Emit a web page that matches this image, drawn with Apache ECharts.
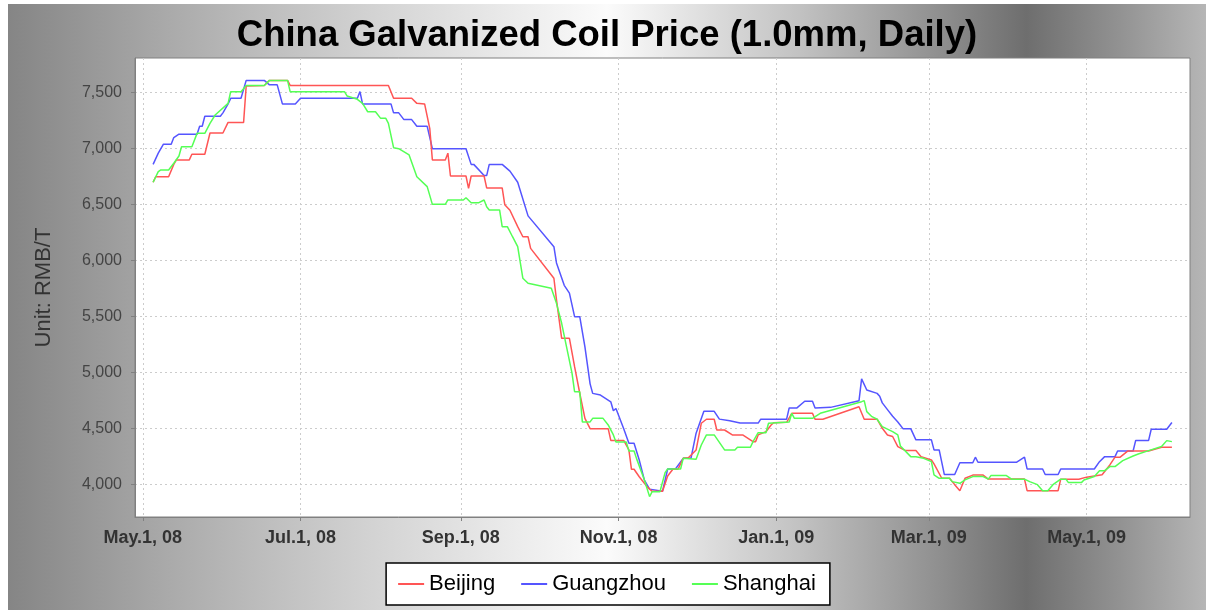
<!DOCTYPE html>
<html>
<head>
<meta charset="utf-8">
<script src="https://cdn.jsdelivr.net/npm/echarts@6/dist/echarts.min.js"></script>
<style>
html,body{margin:0;padding:0;background:#fff;}
#chart{position:absolute;left:8px;top:4px;width:1198px;height:606px;}
</style>
</head>
<body>
<div id="chart"></div>
<script>
const titleText = 'China Galvanized Coil Price (1.0mm, Daily)';
const yAxisName = 'Unit: RMB/T';
const seriesNames = ['Beijing', 'Guangzhou', 'Shanghai'];
const xTickDates = ['2008-05-01','2008-07-01','2008-09-01','2008-11-01','2009-01-01','2009-03-01','2009-05-01'];
const xTickLabels = ['May.1, 08','Jul.1, 08','Sep.1, 08','Nov.1, 08','Jan.1, 09','Mar.1, 09','May.1, 09'];
const yTicks = [4000, 4500, 5000, 5500, 6000, 6500, 7000, 7500];
const xRange = ['2008-04-28', '2009-06-10'];
const yRange = [3711, 7810];

const beijing = [
['2008-05-05',6700],['2008-05-06',6750],['2008-05-11',6750],['2008-05-13',6860],['2008-05-14',6900],['2008-05-19',6900],
['2008-05-20',6950],['2008-05-25',6950],['2008-05-27',7140],['2008-06-01',7140],['2008-06-03',7235],['2008-06-09',7235],
['2008-06-10',7560],['2008-06-17',7565],['2008-06-19',7610],['2008-06-26',7610],['2008-06-27',7565],['2008-08-04',7565],
['2008-08-06',7450],['2008-08-13',7450],['2008-08-15',7405],['2008-08-18',7400],['2008-08-20',7180],['2008-08-21',6900],
['2008-08-26',6900],['2008-08-27',6960],['2008-08-28',6756],['2008-09-03',6756],['2008-09-04',6646],['2008-09-05',6756],
['2008-09-10',6756],['2008-09-11',6650],['2008-09-17',6650],['2008-09-18',6500],['2008-09-20',6450],['2008-09-23',6304],
['2008-09-25',6214],['2008-09-27',6214],['2008-09-28',6110],['2008-10-07',5843],['2008-10-08',5650],['2008-10-10',5307],
['2008-10-13',5307],['2008-10-15',5053],['2008-10-17',4816],['2008-10-19',4592],['2008-10-21',4500],['2008-10-28',4500],
['2008-10-29',4395],['2008-11-03',4395],['2008-11-05',4310],['2008-11-06',4137],['2008-11-07',4137],['2008-11-09',4070],
['2008-11-12',3982],['2008-11-14',3940],['2008-11-18',3940],['2008-11-20',4077],['2008-11-22',4137],['2008-11-24',4137],
['2008-11-26',4235],['2008-11-28',4240],['2008-12-01',4310],['2008-12-03',4548],['2008-12-05',4584],['2008-12-08',4584],
['2008-12-09',4488],['2008-12-12',4488],['2008-12-15',4444],['2008-12-19',4444],['2008-12-23',4384],['2008-12-24',4384],
['2008-12-25',4444],['2008-12-28',4473],['2008-12-30',4533],['2008-12-31',4553],['2009-01-05',4557],['2009-01-07',4637],
['2009-01-15',4637],['2009-01-16',4584],['2009-01-19',4584],['2009-02-02',4696],['2009-02-04',4584],['2009-02-09',4584],
['2009-02-11',4503],['2009-02-13',4444],['2009-02-15',4430],['2009-02-17',4340],['2009-02-20',4304],['2009-02-24',4304],
['2009-02-26',4250],['2009-03-02',4220],['2009-03-03',4185],['2009-03-06',4057],['2009-03-09',4057],['2009-03-11',4000],
['2009-03-13',3946],['2009-03-15',4057],['2009-03-18',4085],['2009-03-22',4085],['2009-03-24',4050],['2009-04-07',4050],
['2009-04-08',3946],['2009-04-20',3946],['2009-04-21',4049],['2009-04-28',4049],['2009-05-01',4067],['2009-05-07',4088],
['2009-05-10',4176],['2009-05-12',4245],['2009-05-14',4245],['2009-05-17',4301],['2009-05-25',4301],['2009-05-30',4334],
['2009-06-03',4334]
];

const guangzhou = [
['2008-05-05',6860],['2008-05-07',6960],['2008-05-09',7040],['2008-05-12',7040],['2008-05-13',7100],['2008-05-15',7130],
['2008-05-22',7130],['2008-05-23',7200],['2008-05-24',7200],['2008-05-25',7290],['2008-05-31',7290],['2008-06-01',7320],
['2008-06-03',7400],['2008-06-04',7450],['2008-06-08',7450],['2008-06-10',7610],['2008-06-17',7610],['2008-06-19',7570],
['2008-06-22',7570],['2008-06-24',7400],['2008-06-29',7400],['2008-07-01',7450],['2008-07-23',7450],['2008-07-24',7510],
['2008-07-25',7400],['2008-08-05',7400],['2008-08-06',7320],['2008-08-08',7320],['2008-08-10',7260],['2008-08-13',7260],
['2008-08-15',7200],['2008-08-19',7200],['2008-08-21',7000],['2008-09-03',7000],['2008-09-05',6860],['2008-09-06',6860],
['2008-09-10',6760],['2008-09-11',6760],['2008-09-12',6860],['2008-09-17',6860],['2008-09-20',6800],['2008-09-23',6700],
['2008-09-27',6400],['2008-10-07',6125],['2008-10-08',5980],['2008-10-11',5780],['2008-10-13',5710],['2008-10-15',5500],
['2008-10-17',5500],['2008-10-19',5230],['2008-10-21',4900],['2008-10-22',4815],['2008-10-25',4800],['2008-10-29',4740],
['2008-10-30',4660],['2008-10-31',4680],['2008-11-03',4500],['2008-11-05',4370],['2008-11-07',4370],['2008-11-09',4220],
['2008-11-11',4040],['2008-11-13',3960],['2008-11-18',3940],['2008-11-20',4140],['2008-11-23',4140],['2008-11-26',4235],
['2008-11-29',4235],['2008-12-01',4460],['2008-12-04',4655],['2008-12-08',4655],['2008-12-10',4585],['2008-12-14',4570],
['2008-12-18',4550],['2008-12-25',4550],['2008-12-26',4585],['2009-01-05',4585],['2009-01-06',4685],['2009-01-09',4685],
['2009-01-12',4745],['2009-01-15',4745],['2009-01-16',4685],['2009-01-22',4690],['2009-02-02',4750],['2009-02-03',4945],
['2009-02-05',4845],['2009-02-09',4815],['2009-02-10',4790],['2009-02-11',4730],['2009-02-13',4670],['2009-02-15',4610],
['2009-02-17',4560],['2009-02-19',4500],['2009-02-22',4500],['2009-02-24',4400],['2009-03-02',4400],['2009-03-03',4310],
['2009-03-05',4310],['2009-03-07',4090],['2009-03-11',4090],['2009-03-13',4195],['2009-03-18',4195],['2009-03-19',4245],
['2009-03-20',4200],['2009-04-04',4200],['2009-04-07',4245],['2009-04-08',4140],['2009-04-14',4140],['2009-04-15',4090],
['2009-04-20',4090],['2009-04-21',4140],['2009-05-04',4140],['2009-05-06',4205],['2009-05-08',4250],['2009-05-12',4250],
['2009-05-13',4300],['2009-05-19',4300],['2009-05-20',4395],['2009-05-25',4395],['2009-05-26',4495],['2009-06-01',4495],
['2009-06-03',4555]
];

const shanghai = [
['2008-05-05',6700],['2008-05-07',6795],['2008-05-08',6810],['2008-05-11',6810],['2008-05-13',6870],['2008-05-15',6935],
['2008-05-16',7018],['2008-05-20',7018],['2008-05-22',7137],['2008-05-25',7137],['2008-05-27',7227],['2008-05-29',7301],
['2008-06-03',7405],['2008-06-04',7509],['2008-06-08',7509],['2008-06-10',7565],['2008-06-17',7565],['2008-06-19',7610],
['2008-06-26',7610],['2008-06-27',7509],['2008-07-18',7509],['2008-07-19',7471],['2008-07-23',7441],['2008-07-25',7405],
['2008-07-27',7330],['2008-07-30',7330],['2008-08-01',7271],['2008-08-03',7271],['2008-08-04',7227],['2008-08-06',7009],
['2008-08-08',7000],['2008-08-12',6944],['2008-08-15',6750],['2008-08-19',6661],['2008-08-21',6503],['2008-08-26',6503],
['2008-08-27',6542],['2008-09-02',6542],['2008-09-03',6562],['2008-09-05',6518],['2008-09-08',6518],['2008-09-10',6542],
['2008-09-11',6482],['2008-09-12',6453],['2008-09-16',6453],['2008-09-17',6304],['2008-09-19',6304],['2008-09-21',6214],
['2008-09-23',6125],['2008-09-25',5843],['2008-09-27',5798],['2008-10-06',5753],['2008-10-08',5619],['2008-10-10',5441],
['2008-10-14',4995],['2008-10-15',4830],['2008-10-17',4830],['2008-10-18',4560],['2008-10-21',4560],['2008-10-22',4592],
['2008-10-26',4592],['2008-10-28',4533],['2008-10-30',4444],['2008-10-31',4380],['2008-11-04',4380],['2008-11-05',4301],
['2008-11-07',4301],['2008-11-08',4230],['2008-11-11',4042],['2008-11-13',3893],['2008-11-14',3937],['2008-11-17',3937],
['2008-11-19',4107],['2008-11-20',4140],['2008-11-25',4140],['2008-11-26',4235],['2008-12-01',4226],['2008-12-03',4354],
['2008-12-05',4444],['2008-12-08',4444],['2008-12-12',4310],['2008-12-16',4310],['2008-12-17',4334],['2008-12-22',4334],
['2008-12-23',4384],['2008-12-25',4464],['2008-12-28',4464],['2008-12-29',4548],['2009-01-06',4560],['2009-01-07',4637],
['2009-01-08',4592],['2009-01-15',4592],['2009-01-18',4637],['2009-02-03',4741],['2009-02-04',4750],['2009-02-05',4652],
['2009-02-07',4607],['2009-02-09',4584],['2009-02-11',4518],['2009-02-15',4473],['2009-02-17',4444],['2009-02-18',4345],
['2009-02-22',4250],['2009-02-24',4250],['2009-02-27',4235],['2009-03-02',4206],['2009-03-03',4087],['2009-03-05',4057],
['2009-03-09',4057],['2009-03-10',4027],['2009-03-13',4012],['2009-03-15',4042],['2009-03-18',4072],['2009-03-22',4072],
['2009-03-24',4049],['2009-03-25',4081],['2009-03-31',4081],['2009-04-02',4049],['2009-04-07',4049],['2009-04-09',4027],
['2009-04-12',4000],['2009-04-14',3946],['2009-04-16',3946],['2009-04-18',4000],['2009-04-21',4049],['2009-04-23',4049],
['2009-04-24',4018],['2009-04-29',4018],['2009-04-30',4042],['2009-05-04',4072],['2009-05-06',4125],['2009-05-08',4125],
['2009-05-10',4161],['2009-05-12',4161],['2009-05-15',4214],['2009-05-19',4256],['2009-05-21',4274],['2009-05-25',4304],
['2009-05-30',4340],['2009-06-01',4393],['2009-06-03',4384]
];

const colors = ['#FF5555', '#5555FF', '#55FF55'];

function ts(s) { const p = s.split('-'); return Date.UTC(+p[0], +p[1] - 1, +p[2]); }
const toXY = arr => arr.map(d => [ts(d[0]), d[1]]);
const xTickValues = xTickDates.map(ts);
function xLabel(v) {
  const i = xTickValues.findIndex(t => Math.abs(t - v) < 43200000);
  return i >= 0 ? xTickLabels[i] : '';
}

const chart = echarts.init(document.getElementById('chart'), null, {renderer: 'canvas'});
const gridLine = {show: true, lineStyle: {color: '#cccccc', type: [2, 3], width: 1}};
chart.setOption({
  animation: false,
  backgroundColor: {
    type: 'linear', x: 0, y: 0, x2: 1, y2: 0,
    colorStops: [
      {offset: 0, color: '#858585'},
      {offset: 0.13, color: '#a9a9a9'},
      {offset: 0.3, color: '#d2d2d2'},
      {offset: 0.5, color: '#fbfbfb'},
      {offset: 0.66, color: '#c2c2c2'},
      {offset: 0.78, color: '#8e8e8e'},
      {offset: 0.85, color: '#6e6e6e'},
      {offset: 0.93, color: '#939393'},
      {offset: 1, color: '#b6b6b6'}
    ]
  },
  title: {
    text: titleText, left: 'center', top: 8,
    textStyle: {fontFamily: 'Liberation Sans, Arial', fontWeight: 'bold', fontSize: 36.5, color: '#000'}
  },
  legend: {
    data: seriesNames, bottom: 5, left: 'center',
    icon: 'rect', itemWidth: 26, itemHeight: 2, itemGap: 26,
    backgroundColor: '#fff', borderColor: '#000', borderWidth: 1.5,
    padding: [10, 14, 10, 12],
    textStyle: {fontFamily: 'Liberation Sans, Arial', fontSize: 22, color: '#000'}
  },
  grid: {left: 127, top: 54, right: 16, bottom: 93, show: true, backgroundColor: '#fff', borderColor: '#808080', borderWidth: 1},
  xAxis: {
    type: 'value', min: ts(xRange[0]), max: ts(xRange[1]),
    axisLine: {show: true, lineStyle: {color: '#808080'}},
    axisTick: {show: true, customValues: xTickValues, length: 4, lineStyle: {color: '#808080'}},
    axisLabel: {customValues: xTickValues, formatter: xLabel, margin: 12, color: '#333',
      fontFamily: 'Liberation Sans, Arial', fontWeight: 'bold', fontSize: 18},
    splitLine: gridLine
  },
  yAxis: {
    type: 'value', min: yRange[0], max: yRange[1],
    name: yAxisName, nameLocation: 'middle', nameGap: 80, nameRotate: 90,
    nameTextStyle: {fontFamily: 'Liberation Sans, Arial', fontSize: 22, color: '#333'},
    axisLine: {show: true, lineStyle: {color: '#808080'}},
    axisTick: {show: true, customValues: yTicks, length: 4, lineStyle: {color: '#808080'}},
    axisLabel: {customValues: yTicks, formatter: v => v.toLocaleString('en-US'), margin: 13, color: '#444',
      fontFamily: 'Liberation Sans, Arial', fontSize: 16},
    splitLine: gridLine
  },
  series: [
    {name: seriesNames[0], type: 'line', data: toXY(beijing), showSymbol: false, color: colors[0], lineStyle: {width: 1.5}, z: 3},
    {name: seriesNames[1], type: 'line', data: toXY(guangzhou), showSymbol: false, color: colors[1], lineStyle: {width: 1.5}, z: 2},
    {name: seriesNames[2], type: 'line', data: toXY(shanghai), showSymbol: false, color: colors[2], lineStyle: {width: 1.5}, z: 4}
  ]
});
</script>
</body>
</html>
